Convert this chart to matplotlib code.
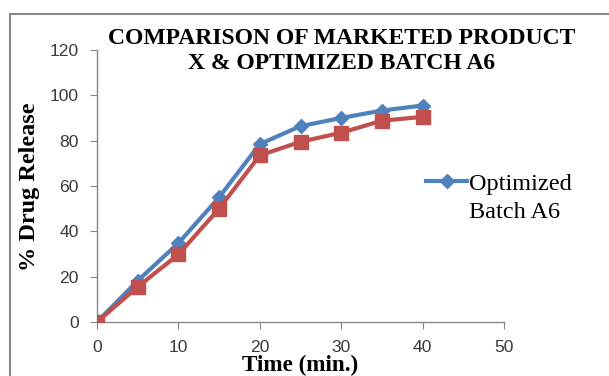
import matplotlib.pyplot as plt
from matplotlib.patches import Rectangle

time_min = [0, 5, 10, 15, 20, 25, 30, 35, 40]
optimized_a6 = [0, 18.2, 34.8, 55, 78.5, 86.4, 90, 93.3, 95.5]
marketed_x = [0, 15.5, 29.8, 50, 73.5, 79.5, 83.5, 88.8, 90.5]

fig = plt.figure(figsize=(6.09, 3.76), dpi=100)
fig.patches.append(Rectangle((10 / 609, -0.1), 1.2, 1 - 14 / 376 + 0.1,
                             transform=fig.transFigure, fill=False,
                             edgecolor='#888888', linewidth=1.5))

ax = fig.add_axes([97 / 609, 1 - 322 / 376, 407 / 609, 272 / 376])
ax.plot(time_min, optimized_a6, color='#4F81BD', lw=3, marker='D', ms=7,
        label='Optimized', zorder=3)
ax.plot(time_min, marketed_x, color='#C0504D', lw=3, marker='s', ms=10,
        zorder=4)

ax.set_xlim(0, 50)
ax.set_ylim(0, 120)
ax.set_xticks(range(0, 51, 10))
ax.set_yticks(range(0, 121, 20))
for s in ['top', 'right']:
    ax.spines[s].set_visible(False)
for s in ['left', 'bottom']:
    ax.spines[s].set_color('#868686')
    ax.spines[s].set_linewidth(1)
ax.tick_params(direction='out', length=5, color='#868686', labelsize=12.6,
               labelcolor='#3a3a3a', pad=8)
for lab in ax.get_xticklabels() + ax.get_yticklabels():
    lab.set_family('Liberation Sans')

fig.text(342 / 609, 1 - 51 / 376, 'COMPARISON OF MARKETED PRODUCT\nX & OPTIMIZED BATCH A6',
         ha='center', va='center', family='Liberation Serif', weight='bold',
         fontsize=17, linespacing=1.3)
fig.text(30 / 609, 1 - 187 / 376, '% Drug Release', rotation=90, ha='center',
         va='center', family='Liberation Serif', weight='bold', fontsize=17.5)
fig.text(300 / 609, 1 - 365 / 376, 'Time (min.)', ha='center', va='center',
         family='Liberation Serif', weight='bold', fontsize=16.7)

leg = fig.legend(loc='center left', bbox_to_anchor=(426 / 609, 1 - 184 / 376),
                 frameon=False, prop={'family': 'Liberation Serif', 'size': 17.5},
                 handlelength=1.7, handletextpad=0.05, borderaxespad=0,
                 borderpad=0)
fig.text(469 / 609, 1 - 212 / 376, 'Batch A6', ha='left', va='center',
         family='Liberation Serif', fontsize=17.5)

fig.savefig('out.png', dpi=100)
